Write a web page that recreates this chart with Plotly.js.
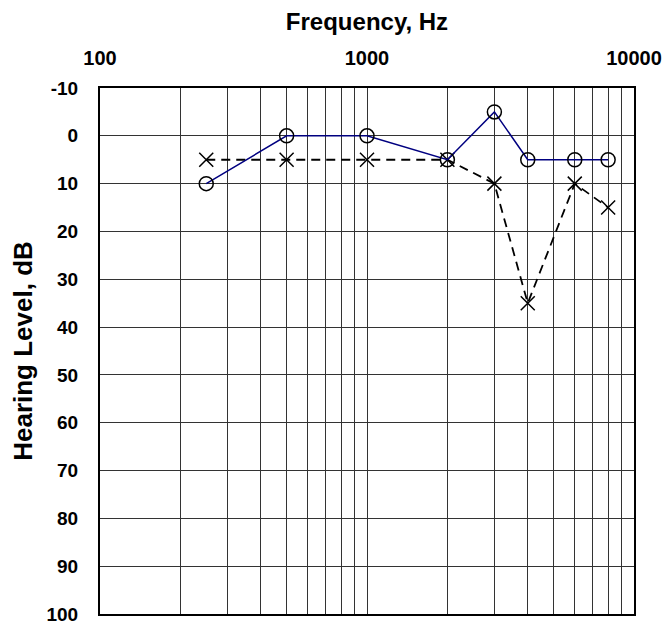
<!DOCTYPE html>
<html>
<head>
<meta charset="utf-8">
<script src="https://cdn.plot.ly/plotly-3.0.1.min.js"></script>
<style>html,body{margin:0;padding:0;background:#fff;}#chart{width:664px;height:625px;}</style>
</head>
<body>
<div id="chart"></div>
<script>
// Frequencies (Hz)
var frequencies = [250, 500, 1000, 2000, 3000, 4000, 6000, 8000];
// Hearing levels (dB) - circles (blue line)
var levelsCircle = [10, 0, 0, 5, -5, 5, 5, 5];
// Hearing levels (dB) - crosses (dashed line)
var levelsCross = [5, 5, 5, 5, 10, 35, 10, 15];
// X-axis grid positions and tick labels
var xGridVals = [100,200,300,400,500,600,700,800,900,1000,2000,3000,4000,5000,6000,7000,8000,9000,10000];
var xLabelVals = [100, 1000, 10000];
var xLabelText = ['100', '1000', '10000'];
// Y-axis ticks and labels
var yTickVals = [-10, 0, 10, 20, 30, 40, 50, 60, 70, 80, 90, 100];
var yTickText = ['-10', '0', '10', '20', '30', '40', '50', '60', '70', '80', '90', '100'];

var xTickText = xGridVals.map(function (v) {
  var i = xLabelVals.indexOf(v);
  return i >= 0 ? xLabelText[i] : '';
});

var fontFam = 'Liberation Sans, Arial, sans-serif';

var traceCross = {
  x: frequencies, y: levelsCross, type: 'scatter', mode: 'lines+markers',
  line: {color: '#000000', width: 1.8, dash: '9px,6px'},
  marker: {symbol: 'x-thin-open', size: 14, color: '#000000', line: {color: '#000000', width: 1.5}},
  showlegend: false, cliponaxis: false
};
var traceCircle = {
  x: frequencies, y: levelsCircle, type: 'scatter', mode: 'lines+markers',
  line: {color: '#000080', width: 1.5},
  marker: {symbol: 'circle-open', size: 14, color: '#000000', line: {color: '#000000', width: 1.5}},
  showlegend: false, cliponaxis: false
};

var layout = {
  width: 664, height: 625,
  margin: {l: 100, r: 30, t: 88, b: 11, pad: 0},
  paper_bgcolor: '#ffffff', plot_bgcolor: '#ffffff',
  font: {family: fontFam, color: '#000000'},
  title: {
    text: 'Frequency, Hz',
    font: {family: fontFam, size: 24, weight: 700, color: '#000000'},
    xref: 'paper', x: 0.5, xanchor: 'center',
    yref: 'container', y: 1 - 22 / 625, yanchor: 'middle'
  },
  xaxis: {
    type: 'log', range: [2, 4], side: 'top',
    tickmode: 'array', tickvals: xGridVals, ticktext: xTickText,
    showgrid: true, gridcolor: '#333333', gridwidth: 1,
    showline: true, mirror: true, linecolor: '#000000', linewidth: 2,
    ticks: '', ticklabelstandoff: 13, ticklabeloverflow: 'allow',
    tickfont: {family: fontFam, size: 20, weight: 700, color: '#000000'},
    zeroline: false, fixedrange: true
  },
  yaxis: {
    range: [100, -10], tickmode: 'array', tickvals: yTickVals, ticktext: yTickText,
    showgrid: true, gridcolor: '#333333', gridwidth: 1,
    showline: true, mirror: true, linecolor: '#000000', linewidth: 2,
    ticks: '', ticklabelstandoff: 16, ticklabeloverflow: 'allow',
    tickfont: {family: fontFam, size: 19, weight: 700, color: '#000000'},
    title: {text: 'Hearing Level, dB', font: {family: fontFam, size: 26, weight: 700, color: '#000000'}, standoff: 6},
    zeroline: false, fixedrange: true
  }
};

Plotly.newPlot('chart', [traceCross, traceCircle], layout, {staticPlot: true, displayModeBar: false});
</script>
</body>
</html>
